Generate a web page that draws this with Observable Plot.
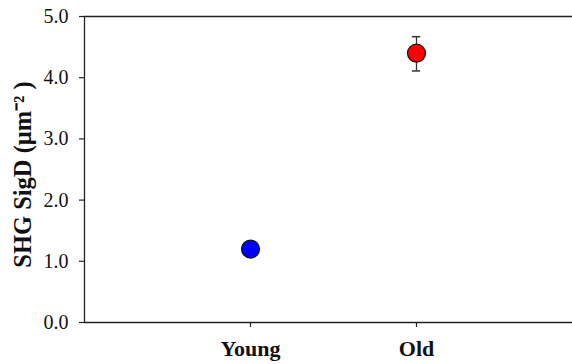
<!DOCTYPE html>
<html>
<head>
<meta charset="utf-8">
<script src="https://cdn.jsdelivr.net/npm/d3@7"></script>
<script src="https://cdn.jsdelivr.net/npm/@observablehq/plot@0.6"></script>
<style>
  html, body { margin: 0; padding: 0; background: #fff; }
</style>
</head>
<body>
<div id="chart"></div>
<script>
const groups = ["Young", "Old"];
const means = [1.2, 4.4];
const errUp = [0.05, 0.27];
const errDown = [0.05, 0.29];
const colors = ["#0000ff", "#ff0000"];
const yTicks = [0, 1, 2, 3, 4, 5];
const yTitle = "SHG SigD (μm⁻² )";

const data = groups.map((g, i) => ({
  pos: i + 1, group: g, mean: means[i],
  lo: means[i] - errDown[i], hi: means[i] + errUp[i], color: colors[i]
}));

const ink = "#222";
const capHalf = 0.025;

const chart = Plot.plot({
  width: 572,
  height: 364,
  marginLeft: 84,
  marginRight: 0,
  marginTop: 16,
  marginBottom: 42,
  style: { fontFamily: "'Liberation Serif', 'Times New Roman', serif", background: "#fff", color: ink },
  x: { type: "linear", domain: [0, 3], range: [84, 582] },
  y: { domain: [0, 5] },
  marks: [
    Plot.ruleY([0, 5], { stroke: ink, strokeWidth: 1.3 }),
    Plot.ruleX([0], { stroke: ink, strokeWidth: 1.3 }),
    Plot.axisY({ ticks: yTicks, tickFormat: d3.format(".1f"), tickSize: 5, tickPadding: 11, fontSize: 20, label: null, stroke: ink, strokeWidth: 1.2, fill: "#111" }),
    Plot.axisX({ ticks: groups.map((g, i) => i + 1), tickFormat: d => groups[d - 1], tickSize: 5, tickPadding: 13, fontSize: 22, fontWeight: "bold", label: null, stroke: ink, strokeWidth: 1.2, fill: "#111" }),
    Plot.text([yTitle], { frameAnchor: "left", textAnchor: "middle", dx: -61, dy: 5, rotate: -90, text: d => d, fontSize: 24.5, fontWeight: "bold", fill: "#111" }),
    Plot.ruleX(data, { x: "pos", y1: "lo", y2: "hi", stroke: "#333", strokeWidth: 1.3 }),
    Plot.ruleY(data, { y: "hi", x1: d => d.pos - capHalf, x2: d => d.pos + capHalf, stroke: "#333", strokeWidth: 1.5 }),
    Plot.ruleY(data, { y: "lo", x1: d => d.pos - capHalf, x2: d => d.pos + capHalf, stroke: "#333", strokeWidth: 1.5 }),
    Plot.dot(data, { x: "pos", y: "mean", r: 9, fill: "color", stroke: "#111", strokeWidth: 1.2 })
  ]
});
document.getElementById("chart").append(chart);
</script>
</body>
</html>
